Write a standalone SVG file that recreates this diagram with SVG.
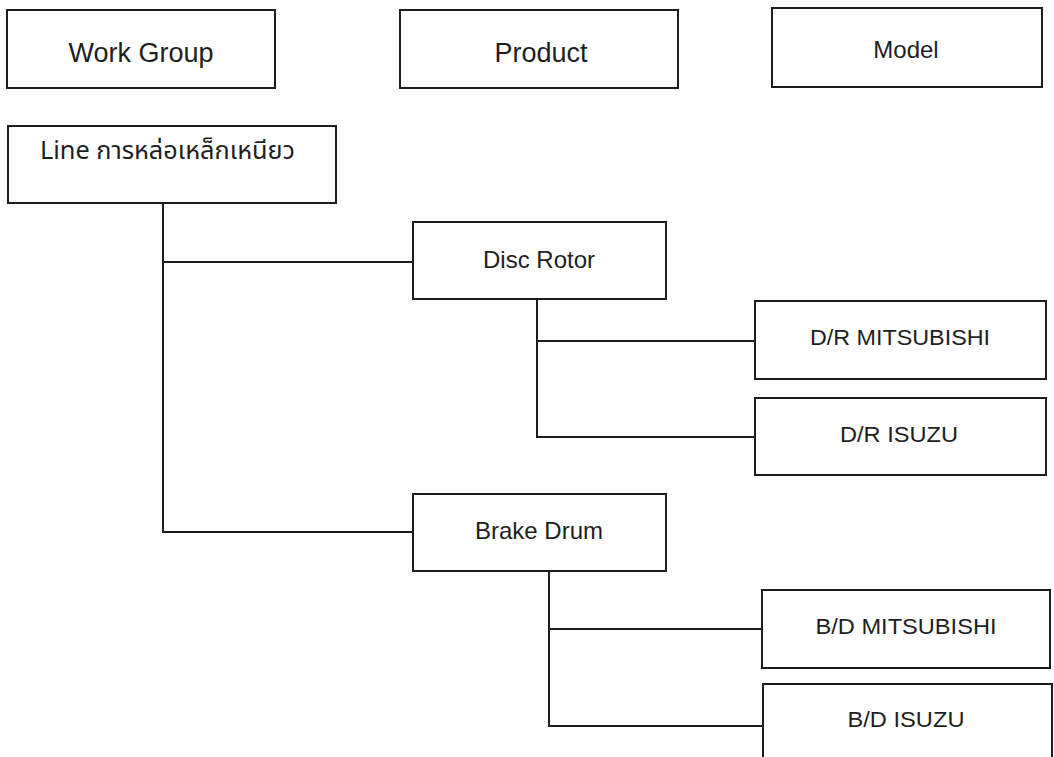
<svg xmlns="http://www.w3.org/2000/svg" width="1054" height="757" viewBox="0 0 1054 757">
  <style>
    .box { fill: #ffffff; stroke: #1e1e1e; stroke-width: 2; }
    .conn { fill: none; stroke: #1e1e1e; stroke-width: 2; }
    .lbl { font-family: "Liberation Sans", Arial, sans-serif; fill: #1e1e1e; text-anchor: middle; }
    .thai { font-family: "Noto Sans Thai", "Noto Sans", "DejaVu Sans", "Liberation Sans", sans-serif; fill: #1e1e1e; }
  </style>
  <rect x="0" y="0" width="1054" height="757" fill="#ffffff"/>

  <g id="header-workgroup">
    <rect class="box" x="7" y="10" width="268" height="78"/>
    <text class="lbl" x="141" y="62" font-size="27">Work Group</text>
  </g>
  <g id="header-product">
    <rect class="box" x="400" y="10" width="278" height="78"/>
    <text class="lbl" x="541" y="62" font-size="27">Product</text>
  </g>
  <g id="header-model">
    <rect class="box" x="772" y="8" width="270" height="79"/>
    <text class="lbl" x="906" y="58" font-size="24">Model</text>
  </g>

  <g id="connectors">
    <polyline class="conn" points="163,203 163,532 413,532"/>
    <line class="conn" x1="163" y1="262" x2="413" y2="262"/>
    <polyline class="conn" points="537,299 537,437 755,437"/>
    <line class="conn" x1="537" y1="341" x2="755" y2="341"/>
    <polyline class="conn" points="549,571 549,726 763,726"/>
    <line class="conn" x1="549" y1="629" x2="762" y2="629"/>
  </g>

  <g id="node-line">
    <rect class="box" x="8" y="126" width="328" height="77"/>
    <text class="thai" x="40" y="159" font-size="25" textLength="255" lengthAdjust="spacingAndGlyphs">Line การหล่อเหล็กเหนียว</text>
  </g>
  <g id="node-disc-rotor">
    <rect class="box" x="413" y="222" width="253" height="77"/>
    <text class="lbl" x="539" y="268" font-size="24">Disc Rotor</text>
  </g>
  <g id="node-dr-mitsubishi">
    <rect class="box" x="755" y="301" width="291" height="78"/>
    <text class="lbl" x="900" y="345" font-size="22" textLength="180" lengthAdjust="spacingAndGlyphs">D/R MITSUBISHI</text>
  </g>
  <g id="node-dr-isuzu">
    <rect class="box" x="755" y="398" width="291" height="77"/>
    <text class="lbl" x="899" y="442" font-size="22" textLength="118" lengthAdjust="spacingAndGlyphs">D/R ISUZU</text>
  </g>
  <g id="node-brake-drum">
    <rect class="box" x="413" y="494" width="253" height="77"/>
    <text class="lbl" x="539" y="539" font-size="24">Brake Drum</text>
  </g>
  <g id="node-bd-mitsubishi">
    <rect class="box" x="762" y="590" width="288" height="78"/>
    <text class="lbl" x="906" y="634" font-size="22" textLength="181" lengthAdjust="spacingAndGlyphs">B/D MITSUBISHI</text>
  </g>
  <g id="node-bd-isuzu">
    <rect class="box" x="763" y="684" width="289" height="90"/>
    <text class="lbl" x="906" y="727" font-size="22" textLength="117" lengthAdjust="spacingAndGlyphs">B/D ISUZU</text>
  </g>
</svg>
